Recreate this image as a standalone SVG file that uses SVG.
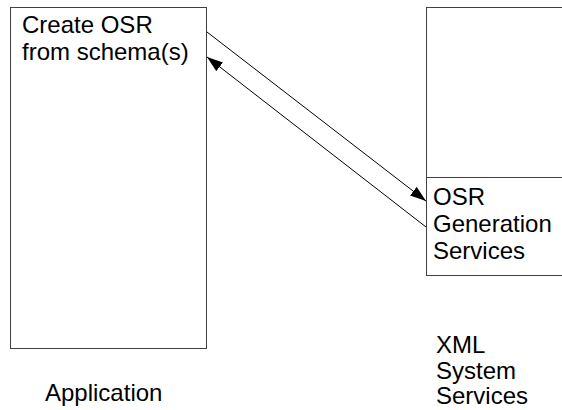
<svg xmlns="http://www.w3.org/2000/svg" width="562" height="410" viewBox="0 0 562 410">
<style>
.box{fill:#fff;stroke:#404040;stroke-width:1}
.t{font-family:"Liberation Sans",Arial,sans-serif;font-size:24px;fill:#000}
.c{stroke:#000;stroke-width:1;fill:none}
</style>
<defs>
<marker id="ah" viewBox="0 0 16 11" refX="16" refY="5.5" markerWidth="16" markerHeight="11" markerUnits="userSpaceOnUse" orient="auto">
<path d="M0,0 L16,5.5 L0,11 z" fill="#000"/>
</marker>
</defs>
<rect width="562" height="410" fill="#fff"/>
<g id="app">
<rect class="box" x="10.5" y="7.5" width="196" height="341"/>
<text class="t" x="22" y="33">Create OSR</text>
<text class="t" x="22" y="60">from schema(s)</text>
<text class="t" x="45" y="401">Application</text>
</g>
<g id="xml">
<rect class="box" x="426.5" y="7.5" width="150" height="170"/>
<text class="t" x="436" y="353">XML</text>
<text class="t" x="436" y="379">System</text>
<text class="t" x="436" y="404">Services</text>
</g>
<g id="osr">
<rect class="box" x="426.5" y="177.5" width="150" height="98"/>
<text class="t" x="433" y="205">OSR</text>
<text class="t" x="433" y="232">Generation</text>
<text class="t" x="433" y="259">Services</text>
</g>
<g id="connectors">
<line class="c" x1="207" y1="32" x2="426" y2="201" marker-end="url(#ah)"/>
<line class="c" x1="426" y1="227" x2="207" y2="57" marker-end="url(#ah)"/>
</g>
</svg>
